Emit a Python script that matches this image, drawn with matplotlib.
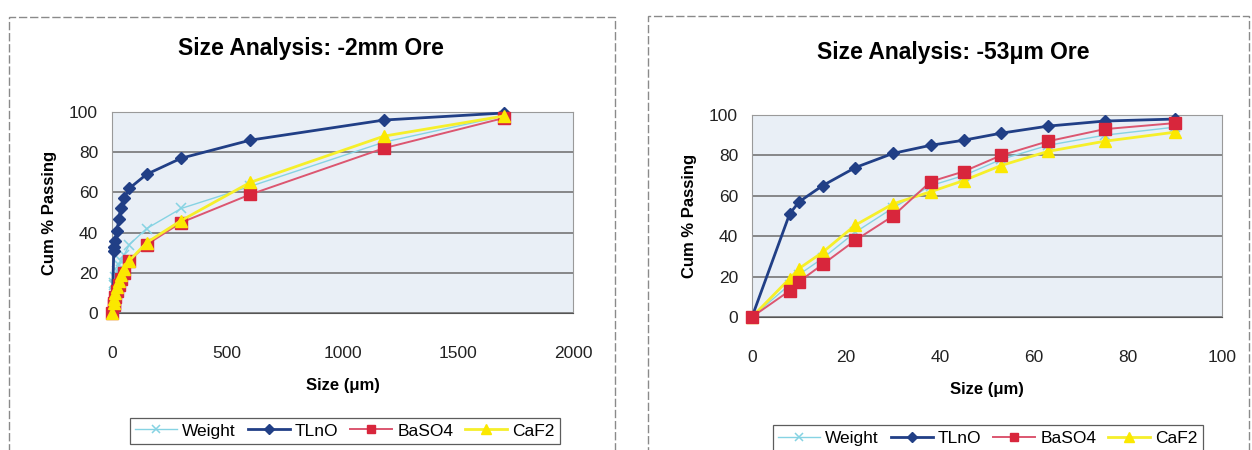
import matplotlib
matplotlib.use("Agg")
import matplotlib.pyplot as plt
from matplotlib.patches import Rectangle
from matplotlib.lines import Line2D

plt.rcParams['font.family'] = ['Liberation Sans', 'DejaVu Sans']

# ---- -2mm ore: cumulative % passing vs size (um) ----
size_2mm = [1700, 1180, 600, 300, 150, 75, 53, 38, 30, 22, 15, 10, 8, 0]
weight_2mm = [98, 85, 63, 52, 42, 34, 29, 26, 24, 21, 18, 15, 14, 0]
tlno_2mm = [99.5, 96, 86, 77, 69, 62, 57, 52, 47, 41, 36, 33, 31, 0]
baso4_2mm = [97, 82, 59, 45, 34, 26, 20, 17, 14, 11, 8, 5, 4, 0]
caf2_2mm = [98, 88, 65, 46, 35, 26, 22, 19, 16, 13, 10, 7, 5, 0]

# ---- -53um ore ----
size_53 = [0, 8, 10, 15, 22, 30, 38, 45, 53, 63, 75, 90]
weight_53 = [0, 16, 21, 29, 42, 54, 65, 70, 78, 85, 90, 94]
tlno_53 = [0, 51, 57, 65, 74, 81, 85, 87.5, 91, 94.5, 97, 98]
baso4_53 = [0, 13, 17.5, 26, 38, 50, 67, 72, 80, 87, 93, 96]
caf2_53 = [0, 19, 24, 32, 45.5, 56, 62, 67.5, 75, 82, 87, 91.5]

series_names = ["Weight", "TLnO", "BaSO4", "CaF2"]
titles = ["Size Analysis: -2mm Ore", "Size Analysis: -53\u03bcm Ore"]
xlabel = "Size (\u03bcm)"
ylabel = "Cum % Passing"

W, H = 1252, 450
fig = plt.figure(figsize=(W / 100, H / 100), dpi=100)
fig.patch.set_facecolor("white")

styles = {
    "Weight": dict(color="#86d3e3", marker="x", ms=7, lw=1.0, mew=1.1,
                   mfc="#86d3e3", mec="#86d3e3"),
    "TLnO": dict(color="#213f86", marker="D", ms=6.5, lw=2.0,
                 mfc="#213f86", mec="#213f86"),
    "BaSO4": dict(color="#dc5670", marker="s", ms=8, lw=1.4,
                  mfc="#d8263c", mec="#d8263c"),
    "CaF2": dict(color="#f6ef2a", marker="^", ms=9, lw=2.0,
                 mfc="#fbe800", mec="#fbe800"),
}


def px_axes(x0, y0, x1, y1):
    return fig.add_axes([x0 / W, 1 - y1 / H, (x1 - x0) / W, (y1 - y0) / H])


def draw_panel(ax, x, data, xmax, xticks, order_z):
    ax.set_facecolor("#e9eff6")
    for name, y in zip(series_names, data):
        st = styles[name]
        ax.plot(x, y, zorder=order_z[name], clip_on=False, **st)
    ax.set_xlim(0, xmax)
    ax.set_ylim(0, 100)
    ax.set_xticks(xticks)
    ax.set_yticks(range(0, 101, 20))
    ax.grid(axis="y", color="#6b6b6b", lw=1.1)
    ax.set_axisbelow(True)
    for s in ax.spines.values():
        s.set_color("#9a9a9a")
        s.set_linewidth(0.8)
    ax.spines["bottom"].set_color("#555555")
    ax.tick_params(axis="both", length=0, labelsize=12.5, colors="#222222")
    ax.tick_params(axis="x", pad=24)
    ax.tick_params(axis="y", pad=10)
    ax.set_xlabel(xlabel, fontsize=12, fontweight="bold", labelpad=12)
    ax.set_ylabel(ylabel, fontsize=12, fontweight="bold", labelpad=9)


# left panel
ax1 = px_axes(112, 112, 573, 313)
draw_panel(ax1, size_2mm, [weight_2mm, tlno_2mm, baso4_2mm, caf2_2mm],
           2000, [0, 500, 1000, 1500, 2000],
           {"Weight": 3, "TLnO": 4, "BaSO4": 5, "CaF2": 6})

# right panel
ax2 = px_axes(752, 115, 1222, 317)
draw_panel(ax2, size_53, [weight_53, tlno_53, baso4_53, caf2_53],
           100, [0, 20, 40, 60, 80, 100],
           {"Weight": 3, "TLnO": 4, "CaF2": 5, "BaSO4": 6})

# chart titles
fig.text(311 / W, 1 - 48 / H, titles[0], ha="center", va="center",
         fontsize=16.5, fontweight="bold")
fig.text(953 / W, 1 - 52 / H, titles[1], ha="center", va="center",
         fontsize=16.5, fontweight="bold")

# chart frames
fig.patches.append(Rectangle((9 / W, -0.1), (615 - 9) / W, 1.1 - 17 / H,
                             transform=fig.transFigure, fill=False,
                             ec="#8a8a8a", lw=1.0, ls=(0, (6, 2))))
fig.patches.append(Rectangle((648 / W, -0.1), (1249 - 648) / W, 1.1 - 16 / H,
                             transform=fig.transFigure, fill=False,
                             ec="#8a8a8a", lw=1.0, ls=(0, (6, 2))))

# legends
handles = [Line2D([], [], **styles[n]) for n in series_names]
for cx, cy in [(345, 431), (988, 438)]:
    leg = fig.legend(handles, series_names, loc="center",
                     bbox_to_anchor=(cx / W, 1 - cy / H), ncol=4,
                     fontsize=12.5, frameon=True, fancybox=False,
                     edgecolor="#333333", handlelength=2.4, handletextpad=0.3,
                     columnspacing=0.7, borderpad=0.3, markerscale=0.8)
    leg.get_frame().set_linewidth(0.9)

fig.savefig("out.png", dpi=100)
